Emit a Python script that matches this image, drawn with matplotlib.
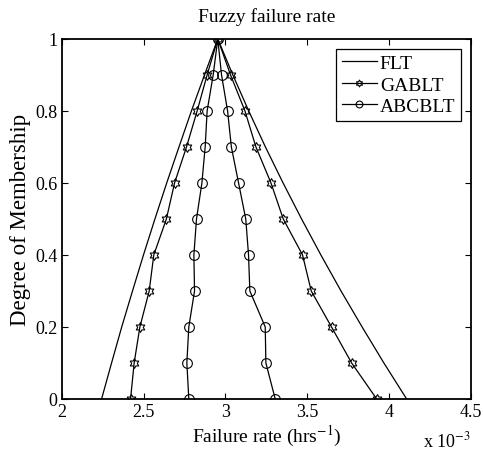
import numpy as np
import matplotlib
matplotlib.use('Agg')
import matplotlib.pyplot as plt
from matplotlib.path import Path
from matplotlib.ticker import FuncFormatter

plt.rcParams['font.family'] = 'Liberation Serif'
plt.rcParams['mathtext.fontset'] = 'stix'

# ========== данные (интенсивность отказов, x 1e-3) ==========
alpha = [0, 0.1, 0.2, 0.3, 0.4, 0.5, 0.6, 0.7, 0.8, 0.9, 1.0]

flt_left = [2.243, 2.304, 2.366, 2.432, 2.499, 2.569, 2.641, 2.716, 2.792, 2.872, 2.953]
flt_right = [4.107, 3.968, 3.835, 3.706, 3.583, 3.465, 3.352, 3.244, 3.142, 3.045, 2.953]

ga_left = [2.420, 2.442, 2.477, 2.534, 2.562, 2.639, 2.689, 2.762, 2.827, 2.888, 2.953]
ga_right = [3.924, 3.771, 3.648, 3.524, 3.471, 3.353, 3.278, 3.186, 3.119, 3.031, 2.953]

abc_left = [2.776, 2.764, 2.776, 2.811, 2.807, 2.823, 2.856, 2.876, 2.888, 2.925, 2.953]
abc_right = [3.304, 3.247, 3.243, 3.149, 3.141, 3.124, 3.080, 3.036, 3.013, 2.976, 2.953]


def tri(left, right):
    # левая ветвь снизу вверх, правая сверху вниз
    x = list(left) + list(right[::-1][1:])
    y = list(alpha) + list(alpha[::-1][1:])
    return x, y


# гексаграмма как в MATLAB ('h')
ang = np.pi / 2 + np.arange(12) * np.pi / 6
rad = np.where(np.arange(12) % 2 == 0, 1.0, 0.577)
verts = np.column_stack([rad * np.cos(ang), rad * np.sin(ang)])
verts = np.vstack([verts, verts[:1]])
hexagram = Path(verts, closed=True)

fig = plt.figure(figsize=(4.83, 4.64), dpi=100)
ax = fig.add_axes([0.128, 0.138, 0.847, 0.776])

x, y = tri(flt_left, flt_right)
ax.plot(x, y, '-', color='black', linewidth=0.9, label='FLT')
x, y = tri(ga_left, ga_right)
ax.plot(x, y, '-', color='black', linewidth=0.9, marker=hexagram,
        markersize=7, markerfacecolor='none', markeredgecolor='black',
        markeredgewidth=0.8, label='GABLT')
x, y = tri(abc_left, abc_right)
ax.plot(x, y, '-', color='black', linewidth=0.9, marker='o',
        markersize=7, markerfacecolor='none', markeredgecolor='black',
        markeredgewidth=0.8, label='ABCBLT')

ax.set_xlim(2, 4.5)
ax.set_ylim(0, 1)
ax.set_xticks([2, 2.5, 3, 3.5, 4, 4.5])
ax.set_yticks([0, 0.2, 0.4, 0.6, 0.8, 1])
fmt = FuncFormatter(lambda v, p: f'{v:g}')
ax.xaxis.set_major_formatter(fmt)
ax.yaxis.set_major_formatter(fmt)
ax.tick_params(direction='in', top=True, right=True, length=4, width=0.8,
               labelsize=13, pad=3)
for s in ax.spines.values():
    s.set_linewidth(1.3)

ax.set_title('Fuzzy failure rate', fontsize=14, pad=13)
ax.set_xlabel('Failure rate (hrs$^{-1}$)', fontsize=14, labelpad=2)
ax.set_ylabel('Degree of Membership', fontsize=16.5, labelpad=3)
ax.text(1.0, -0.115, 'x 10$^{-3}$', transform=ax.transAxes, fontsize=13,
        ha='right', va='center')

leg = ax.legend(loc='upper right', fontsize=14, fancybox=False,
                edgecolor='black', framealpha=1, handlelength=1.8,
                handletextpad=0.15, borderpad=0.3, labelspacing=0.2,
                borderaxespad=0.5, markerscale=0.7)
leg.get_frame().set_linewidth(0.9)

plt.savefig('out.png', dpi=100)
